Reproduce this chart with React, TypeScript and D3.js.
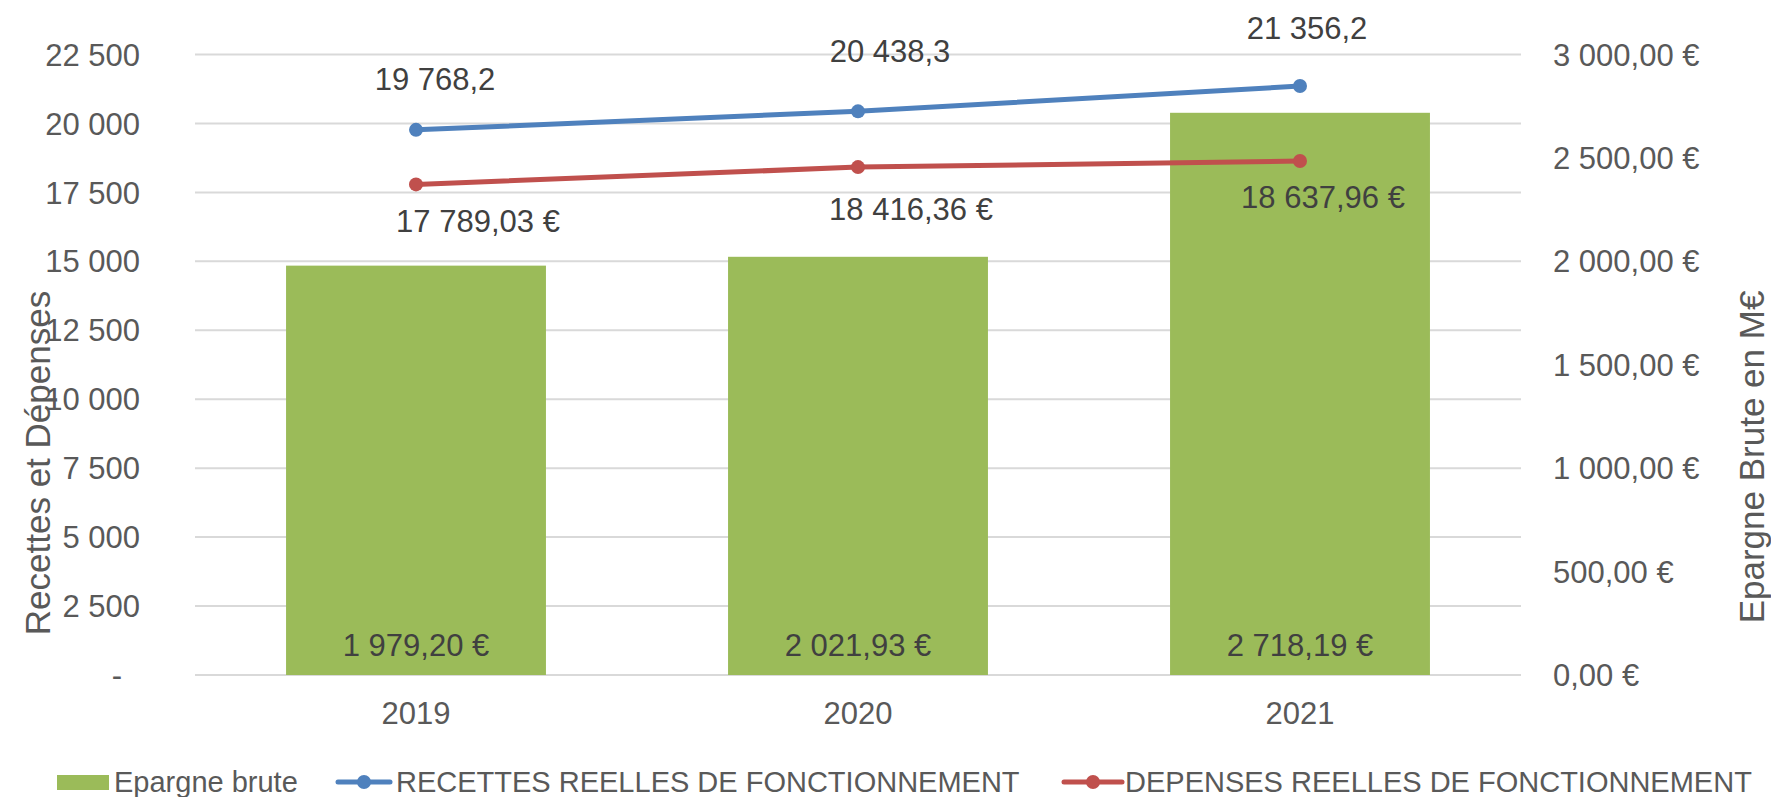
import React from 'react';
import { scaleBand, scaleLinear, line, formatLocale } from 'd3';

const years = ['2019', '2020', '2021'];
const epargneBrute = [1979.2, 2021.93, 2718.19];
const recettes = [19768.2, 20438.3, 21356.2];
const depenses = [17789.03, 18416.36, 18637.96];
const leftTicks = [0, 2500, 5000, 7500, 10000, 12500, 15000, 17500, 20000, 22500];
const rightTicks = [0, 500, 1000, 1500, 2000, 2500, 3000];

// manual nudges of the line labels, like in the original sheet
const recettesNudge = [[19, -40], [32, -49], [7, -47]];
const depensesNudge = [[62, 48], [53, 53], [23, 47]];

const fr = formatLocale({ decimal: ',', thousands: ' ', grouping: [3], currency: ['', ' €'] });
const fmtInt = fr.format(',.0f');
const fmt1 = fr.format(',.1f');
const fmtEur = (v: number) => fr.format(',.2f')(v) + ' €';

const W = 1771;
const H = 797;
const FONT = 'Liberation Sans, Arial, sans-serif';

const App = () => {
  const x = scaleBand().domain(years).range([195, 1521]).paddingInner(0.412).paddingOuter(0.206);
  const yLeft = scaleLinear().domain([0, 22500]).range([675, 54.5]);
  const yRight = scaleLinear().domain([0, 3000]).range([675, 54.5]);
  const cx = (d: string) => (x(d) ?? 0) + x.bandwidth() / 2;

  const path = line<number>().x((_, i) => cx(years[i])).y(d => yLeft(d));

  const blue = '#4F81BD';
  const red = '#C0504D';
  const green = '#9BBB59';

  return (
    <svg width={W} height={H} viewBox={`0 0 ${W} ${H}`} style={{ position: 'absolute', left: 0, top: 0, background: '#fff' }} fontFamily={FONT}>
      {leftTicks.map(t => (
        <line key={'g' + t} x1={195} x2={1521} y1={yLeft(t)} y2={yLeft(t)} stroke="#D9D9D9" strokeWidth={2} />
      ))}
      {leftTicks.map(t => (
        <text key={'l' + t} x={t === 0 ? 117 : 140} y={yLeft(t)} dy="0.36em" fontSize={31} fill="#595959"
          textAnchor={t === 0 ? 'middle' : 'end'}>{t === 0 ? '-' : fmtInt(t)}</text>
      ))}
      {rightTicks.map(t => (
        <text key={'r' + t} x={1553} y={yRight(t)} dy="0.36em" fontSize={31} fill="#595959">{fmtEur(t)}</text>
      ))}

      {years.map((d, i) => (
        <rect key={'b' + d} x={x(d)} y={yRight(epargneBrute[i])} width={x.bandwidth()}
          height={yRight(0) - yRight(epargneBrute[i])} fill={green} />
      ))}
      {years.map((d, i) => (
        <text key={'bl' + d} x={cx(d)} y={656} textAnchor="middle" fontSize={31} fill="#404040">{fmtEur(epargneBrute[i])}</text>
      ))}

      <path d={path(recettes) ?? ''} fill="none" stroke={blue} strokeWidth={5} strokeLinecap="round" />
      <path d={path(depenses) ?? ''} fill="none" stroke={red} strokeWidth={5} strokeLinecap="round" />
      {years.map((d, i) => (
        <g key={'m' + d}>
          <circle cx={cx(d)} cy={yLeft(recettes[i])} r={7} fill={blue} />
          <circle cx={cx(d)} cy={yLeft(depenses[i])} r={7} fill={red} />
          <text x={cx(d) + recettesNudge[i][0]} y={yLeft(recettes[i]) + recettesNudge[i][1]} textAnchor="middle"
            fontSize={31} fill="#404040">{fmt1(recettes[i])}</text>
          <text x={cx(d) + depensesNudge[i][0]} y={yLeft(depenses[i]) + depensesNudge[i][1]} textAnchor="middle"
            fontSize={31} fill="#404040">{fmtEur(depenses[i])}</text>
        </g>
      ))}

      {years.map(d => (
        <text key={'c' + d} x={cx(d)} y={724} textAnchor="middle" fontSize={31} fill="#595959">{d}</text>
      ))}

      <text transform="translate(37,463) rotate(-90)" textAnchor="middle" dy="0.36em" fontSize={35} fill="#595959">Recettes et Dépenses</text>
      <text transform="translate(1751,457) rotate(-90)" textAnchor="middle" dy="0.36em" fontSize={35} fill="#595959">Epargne Brute en M€</text>

      <g fontSize={29} fill="#595959">
        <rect x={57} y={775} width={52} height={15} fill={green} />
        <text x={114} y={782} dy="0.36em">Epargne brute</text>
        <line x1={338} x2={390} y1={782} y2={782} stroke={blue} strokeWidth={5} strokeLinecap="round" />
        <circle cx={364} cy={782} r={7} fill={blue} />
        <text x={396} y={782} dy="0.36em">RECETTES REELLES DE FONCTIONNEMENT</text>
        <line x1={1064} x2={1122} y1={782} y2={782} stroke={red} strokeWidth={5} strokeLinecap="round" />
        <circle cx={1093} cy={782} r={7} fill={red} />
        <text x={1125} y={782} dy="0.36em">DEPENSES REELLES DE FONCTIONNEMENT</text>
      </g>
    </svg>
  );
};

export default App;
